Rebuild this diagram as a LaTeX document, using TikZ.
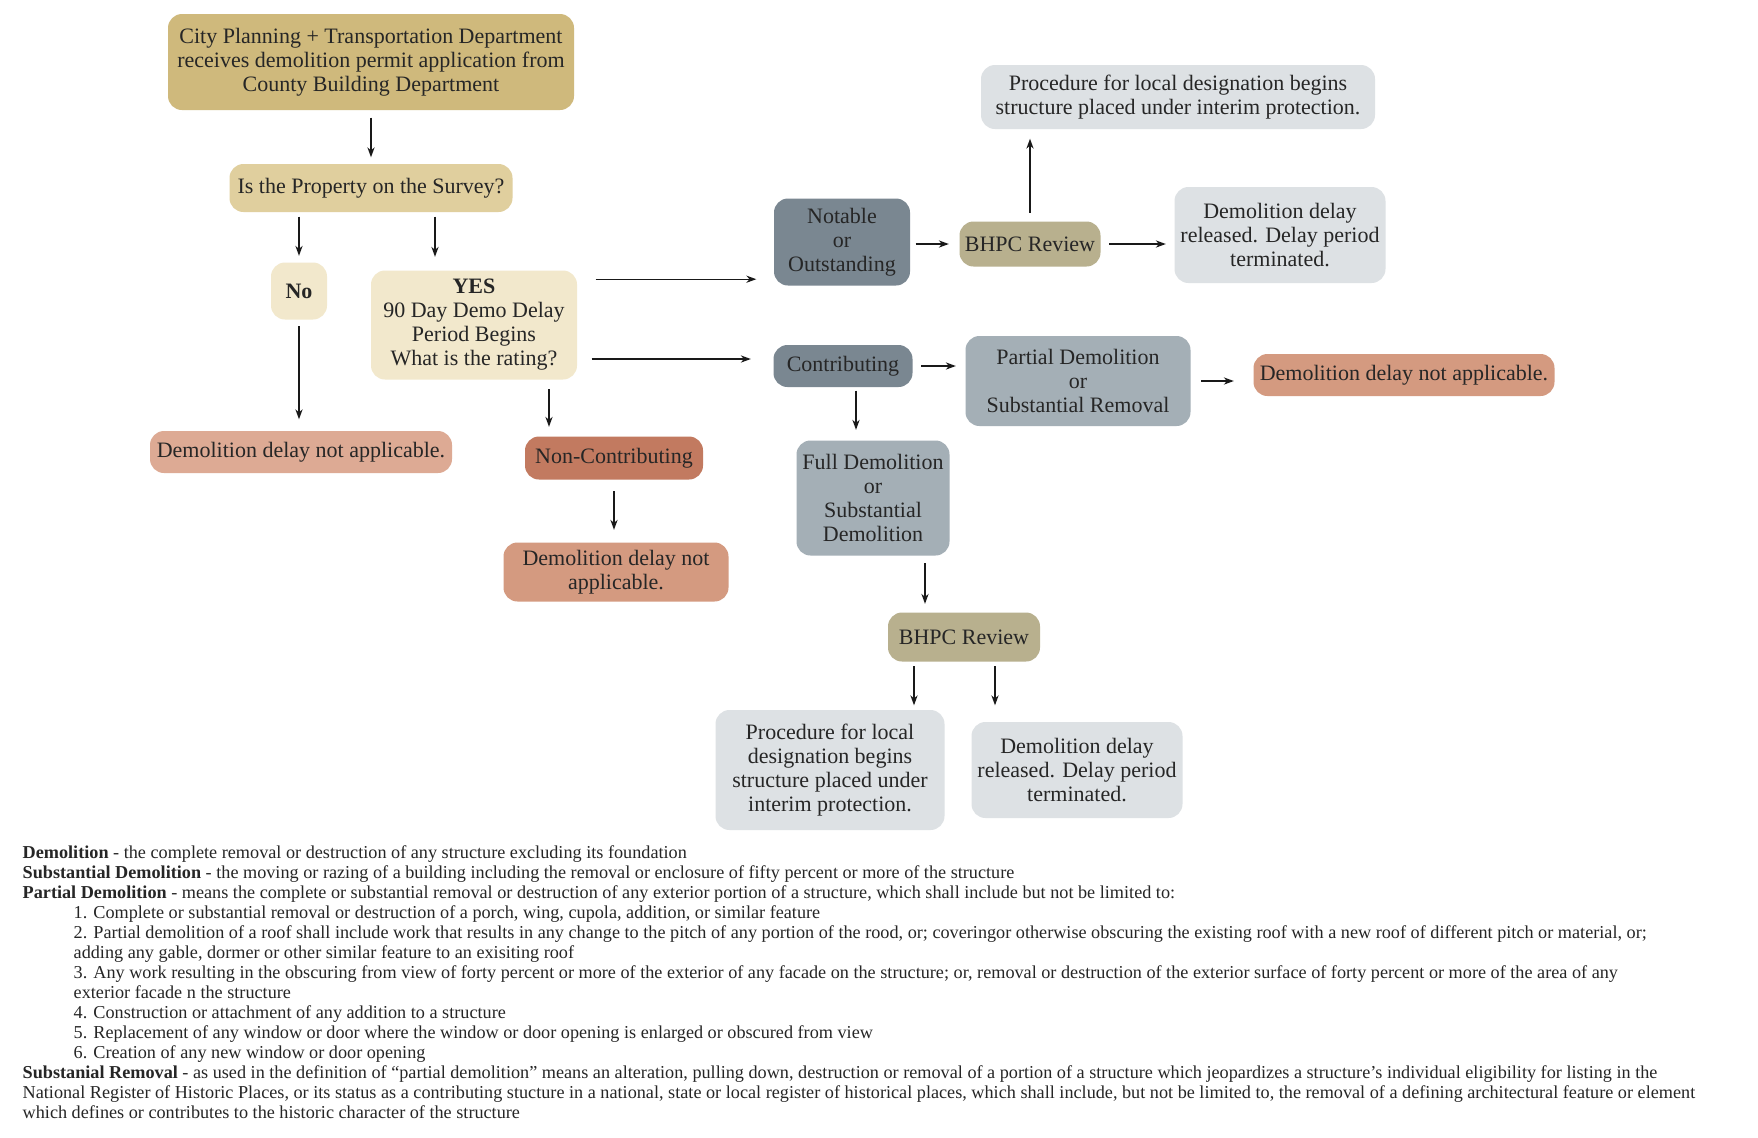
\documentclass[tikz,border=0pt]{standalone}
\usepackage{fontspec}
\setmainfont{Liberation Serif}
\usetikzlibrary{arrows.meta,positioning,calc}
\definecolor{cityc}{HTML}{CFB97C}
\definecolor{surveyc}{HTML}{E0CF9E}
\definecolor{yesc}{HTML}{F2E8CC}
\definecolor{leftnac}{HTML}{DDAA94}
\definecolor{noncc}{HTML}{C27A60}
\definecolor{ratec}{HTML}{7A8791}
\definecolor{bhpcc}{HTML}{B8B08E}
\definecolor{democ}{HTML}{A4AFB6}
\definecolor{procc}{HTML}{DDE1E4}
\definecolor{nac}{HTML}{D49A80}
\begin{document}
\begin{tikzpicture}[x=0.5pt, y=-0.5pt, >={Stealth[length=5pt,width=3.6pt]}, line width=0.7pt,
  box/.style={rounded corners=7pt, align=center, inner sep=0pt, text=black!85, font=\fontsize{11}{12}\selectfont},
  arr/.style={->, black!90}]
\fill[white] (0,0) rectangle (1758,1137);
\useasboundingbox (0,0) rectangle (1758,1137);
\begin{scope}
\node[box, fill=cityc, minimum width=203pt, minimum height=48pt] (city) at (371,62) {City Planning + Transportation Department\\receives demolition permit application from\\County Building Department};
\node[box, fill=surveyc, minimum width=141.5pt, minimum height=24pt] (survey) at (371,188) {Is the Property on the Survey?};
\node[box, fill=yesc, minimum width=28pt, minimum height=28.5pt] (no) at (299,291) {\textbf{No}};
\node[box, fill=yesc, minimum width=103pt, minimum height=54.5pt] (yes) at (474,325) {\textbf{YES}\\90 Day Demo Delay\\Period Begins\\What is the rating?};
\node[box, fill=leftnac, minimum width=151pt, minimum height=21pt] (leftna) at (301,452) {Demolition delay not applicable.};
\node[box, fill=noncc, minimum width=89pt, minimum height=21.5pt] (noncon) at (614,458) {Non-Contributing};
\node[box, fill=nac, minimum width=112.5pt, minimum height=29.5pt] (ncna) at (616,572) {Demolition delay not\\applicable.};
\node[box, fill=ratec, minimum width=68pt, minimum height=43.5pt] (notable) at (842,242) {Notable\\or\\Outstanding};
\node[box, fill=ratec, minimum width=69.5pt, minimum height=21pt] (contrib) at (843,366) {Contributing};
\node[box, fill=democ, minimum width=76.5pt, minimum height=57.5pt] (full) at (873,498) {Full Demolition\\or\\Substantial\\Demolition};
\node[box, fill=bhpcc, minimum width=70.5pt, minimum height=22.5pt] (bhpc1) at (1030,244) {BHPC Review};
\node[box, fill=procc, minimum width=197pt, minimum height=32pt] (proc1) at (1178,97) {Procedure for local designation begins\\structure placed under interim protection.};
\node[box, fill=procc, minimum width=105.5pt, minimum height=48pt] (rel1) at (1280,235) {Demolition delay\\released. Delay period\\terminated.};
\node[box, fill=democ, minimum width=112.5pt, minimum height=45pt] (partial) at (1078,381) {Partial Demolition\\or\\Substantial Removal};
\node[box, fill=nac, minimum width=150.5pt, minimum height=21pt] (rightna) at (1404,375) {Demolition delay not applicable.};
\node[box, fill=bhpcc, minimum width=76pt, minimum height=24.5pt] (bhpc2) at (964,637) {BHPC Review};
\node[box, fill=procc, minimum width=114.5pt, minimum height=60pt] (proc2) at (830,770) {Procedure for local\\designation begins\\structure placed under\\interim protection.};
\node[box, fill=procc, minimum width=105.5pt, minimum height=48pt] (rel2) at (1077,770) {Demolition delay\\released. Delay period\\terminated.};
\end{scope}
\begin{scope}
\draw[arr, shorten <=3.5pt, shorten >=3pt] (city) -- (survey);
\draw[arr, shorten <=2pt, shorten >=3pt] (survey.south -| no.north) -- (no.north);
\draw[arr, shorten <=2pt, shorten >=6.5pt] ([xshift=-19.5pt]yes.north |- survey.south) -- ([xshift=-19.5pt]yes.north);
\draw[arr, shorten <=3pt, shorten >=5.5pt] (no.south) -- (no.south |- leftna.north);
\draw[arr, shorten <=9pt, shorten >=8.5pt] ([yshift=3.5pt]yes.east |- notable.south) -- ([yshift=3.5pt]notable.south west);
\draw[arr, shorten <=7pt, shorten >=11pt] ([yshift=3.5pt]yes.east |- contrib.west) -- ([yshift=3.5pt]contrib.west);
\draw[arr, shorten <=4.5pt, shorten >=4.5pt] ([xshift=-32.5pt]noncon.north |- yes.south) -- ([xshift=-32.5pt]noncon.north);
\draw[arr, shorten <=5.5pt, shorten >=6pt] (noncon.south) -- (noncon.south |- ncna.north);
\draw[arr, shorten <=1.5pt, shorten >=5pt] ([xshift=6.5pt]contrib.south) -- ([xshift=6.5pt]contrib.south |- full.north);
\draw[arr, shorten <=2.5pt, shorten >=5pt] (notable.east |- bhpc1.west) -- (bhpc1.west);
\draw[arr, shorten <=4pt, shorten >=4.5pt] (bhpc1.north) -- (bhpc1.north |- proc1.south);
\draw[arr, shorten <=4pt, shorten >=4pt] (bhpc1.east) -- (bhpc1.east -| rel1.west);
\draw[arr, shorten <=4pt, shorten >=4.5pt] (contrib.east) -- (contrib.east -| partial.west);
\draw[arr, shorten <=5pt, shorten >=9.5pt] (partial.east) -- (partial.east -| rightna.west);
\draw[arr, shorten <=3.5pt, shorten >=4pt] ([xshift=-19.5pt]bhpc2.north |- full.south) -- ([xshift=-19.5pt]bhpc2.north);
\draw[arr, shorten <=2pt, shorten >=2pt] ([xshift=-25pt]bhpc2.south) -- ([xshift=-25pt]bhpc2.south |- proc2.north);
\draw[arr, shorten <=2pt, shorten >=8pt] ([xshift=15.5pt]bhpc2.south) -- ([xshift=15.5pt]bhpc2.south |- rel2.north);
\end{scope}
% definitions below the chart
\node[anchor=north west, align=left, inner sep=0pt, text=black!85, font=\fontsize{9.1}{10}\selectfont] (notes) at (22,845) {%
\textbf{Demolition} - the complete removal or destruction of any structure excluding its foundation\\
\textbf{Substantial Demolition} - the moving or razing of a building including the removal or enclosure of fifty percent or more of the structure\\
\textbf{Partial Demolition} - means the complete or substantial removal or destruction of any exterior portion of a structure, which shall include but not be limited to:\\
\hspace*{25.5pt}1. Complete or substantial removal or destruction of a porch, wing, cupola, addition, or similar feature\\
\hspace*{25.5pt}2. Partial demolition of a roof shall include work that results in any change to the pitch of any portion of the rood, or; coveringor otherwise obscuring the existing roof with a new roof of different pitch or material, or;\\
\hspace*{25.5pt}adding any gable, dormer or other similar feature to an exisiting roof\\
\hspace*{25.5pt}3. Any work resulting in the obscuring from view of forty percent or more of the exterior of any facade on the structure; or, removal or destruction of the exterior surface of forty percent or more of the area of any\\
\hspace*{25.5pt}exterior facade n the structure\\
\hspace*{25.5pt}4. Construction or attachment of any addition to a structure\\
\hspace*{25.5pt}5. Replacement of any window or door where the window or door opening is enlarged or obscured from view\\
\hspace*{25.5pt}6. Creation of any new window or door opening\\
\textbf{Substanial Removal} - as used in the definition of “partial demolition” means an alteration, pulling down, destruction or removal of a portion of a structure which jeopardizes a structure’s individual eligibility for listing in the\\
National Register of Historic Places, or its status as a contributing stucture in a national, state or local register of historical places, which shall include, but not be limited to, the removal of a defining architectural feature or element\\
which defines or contributes to the historic character of the structure};
\end{tikzpicture}
\end{document}
